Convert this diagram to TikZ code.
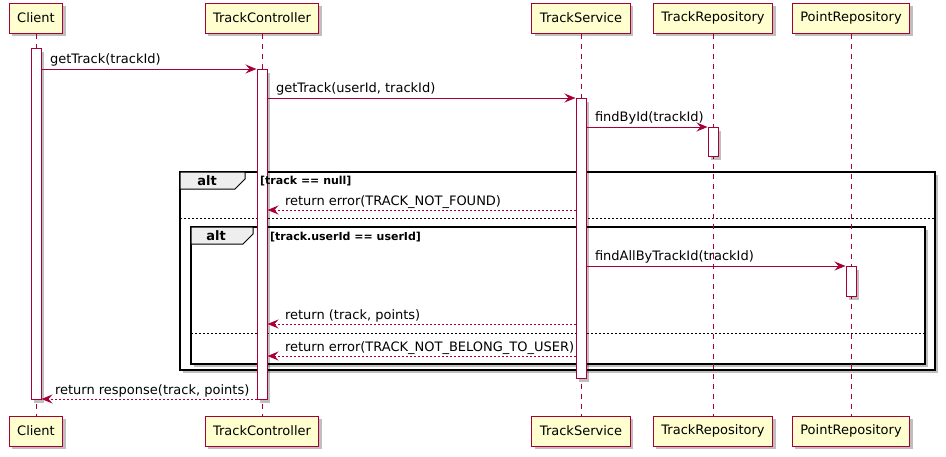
\documentclass[tikz,border=0pt]{standalone}
\usepackage{fontspec}
\setmainfont{DejaVu Sans}
\usetikzlibrary{arrows.meta,positioning,shadows}
\definecolor{umlred}{HTML}{A80036}
\definecolor{umlfill}{HTML}{FEFECE}
\definecolor{umltab}{HTML}{EEEEEE}
\tikzset{
  shade/.style={drop shadow={shadow xshift=3pt, shadow yshift=-3pt, fill=black, opacity=.25}},
  actor/.style={draw=umlred, fill=umlfill, line width=1pt, shade, minimum height=30pt,
                inner xsep=8pt, font=\fontsize{13}{15}\selectfont},
  life/.style={draw=umlred, line width=1pt, dash pattern=on 5pt off 5pt},
  act/.style={draw=umlred, fill=white, line width=1pt, shade, minimum width=10pt, inner sep=0pt, anchor=north},
  msg/.style={draw=umlred, line width=1pt, -{Stealth[length=11pt, width=9pt, inset=4pt]}},
  ret/.style={msg, dash pattern=on 2pt off 2pt},
  txt/.style={anchor=base west, inner sep=0pt, font=\fontsize{13}{15}\selectfont},
  lbl/.style={txt, pos=0, xshift=8pt, yshift=6pt},
  rlbl/.style={txt, pos=1, xshift=17pt, yshift=5pt},
  frame/.style={draw=black, line width=1.5pt, fill=white, shade},
  tab/.style={draw=black, line width=1pt, fill=umltab},
  altlbl/.style={font=\bfseries\fontsize{13}{15}\selectfont, inner sep=0pt},
  guard/.style={anchor=west, inner sep=0pt, font=\bfseries\fontsize{11}{13}\selectfont},
  sep/.style={draw=black, line width=1pt, dash pattern=on 2pt off 2pt}
}
\begin{document}
\begin{tikzpicture}[x=1pt, y=-1pt]
  \useasboundingbox (0,0) rectangle (946,456);
  % frames
  \draw[frame] (180,172) rectangle (935,370);
  \draw[tab] (180,172) -- (245,172) -- (245,179) -- (235,189) -- (180,189) -- cycle;
  \node[altlbl] (alt1) at (207,181) {alt};
  \draw[sep] (180,218) -- (935,218);
  \draw[frame] (191,227) rectangle (925,364);
  \draw[tab] (191,227) -- (253,227) -- (253,234) -- (243,244) -- (191,244) -- cycle;
  \node[altlbl] (alt2) at (216,236) {alt};
  \draw[sep] (191,333) -- (925,333);
  % participants
  \node[actor] (client) at (36,18) {Client};
  \node[actor] (ctrl) at (262,18) {TrackController};
  \node[actor] (service) at (581,18) {TrackService};
  \node[actor] (trackrepo) at (713,18) {TrackRepository};
  \node[actor] (pointrepo) at (851,18) {PointRepository};
  \node[actor] (client2) at (36,431) {Client};
  \node[actor] (ctrl2) at (262,431) {TrackController};
  \node[actor] (service2) at (581,431) {TrackService};
  \node[actor] (trackrepo2) at (713,431) {TrackRepository};
  \node[actor] (pointrepo2) at (851,431) {PointRepository};
  \foreach \p in {client, ctrl, service, trackrepo, pointrepo}
    \draw[life] (\p.south) -- (\p2.north);
  % activations
  \node[act, minimum height=351pt] (cact) at (36,48) {};
  \node[act, minimum height=330pt] (tact) at (262,69) {};
  \node[act, minimum height=280pt] (sact) at (581,98) {};
  \node[act, minimum height=29pt] (ract) at (713,127) {};
  \node[act, minimum height=30pt] (pact) at (851,266) {};
  % messages
  \draw[msg] (cact.east |- 0,69) -- (tact.west |- 0,69) node[lbl] {getTrack(trackId)};
  \draw[msg] (tact.east |- 0,98) -- (sact.west |- 0,98) node[lbl] {getTrack(userId, trackId)};
  \draw[msg] (sact.east |- 0,127) -- (ract.west |- 0,127) node[lbl] {findById(trackId)};
  \draw[ret] (sact.west |- 0,210) -- (tact.east |- 0,210) node[rlbl] {return error(TRACK\_NOT\_FOUND)};
  \draw[msg] (sact.east |- 0,266) -- (pact.west |- 0,266) node[lbl] {findAllByTrackId(trackId)};
  \draw[ret] (sact.west |- 0,324) -- (tact.east |- 0,324) node[rlbl] {return (track, points)};
  \draw[ret] (sact.west |- 0,356) -- (tact.east |- 0,356) node[rlbl] {return error(TRACK\_NOT\_BELONG\_TO\_USER)};
  \draw[ret] (tact.west |- 0,399) -- (cact.east |- 0,399) node[rlbl, xshift=-4pt] {return response(track, points)};
  % guards
  \node[guard] (g1) at (260,181) {[track == null]};
  \node[guard] (g2) at (270,237) {[track.userId == userId]};
\end{tikzpicture}
\end{document}
